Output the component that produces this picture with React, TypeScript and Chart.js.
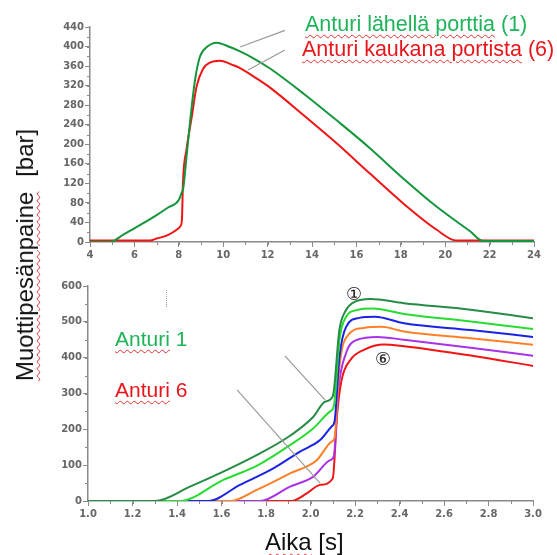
import React, { useEffect, useRef } from 'react';
import { Chart, registerables } from 'chart.js';
Chart.register(...registerables);

// ---------- Top chart data (time s, pressure bar) ----------
const topGreenX = [4, 4.9, 5.5, 6, 6.5, 7, 7.5, 8, 8.12, 8.2, 8.35, 8.5, 8.73, 8.95, 9.26, 9.71, 10.3, 10.76, 11.4, 12.11, 13.61, 15.11, 16.61, 18.11, 19.62, 21.12, 21.7, 22, 24];
const topGreenY = [0, 0, 15, 28, 41, 55, 70, 86, 100, 110, 175, 243, 331, 379, 399, 408, 399, 390, 375, 355, 304, 249, 192, 130, 72, 22, 2, 2, 2];
const topRedX = [4, 6.7, 7, 7.5, 7.9, 8.08, 8.14, 8.19, 8.35, 8.58, 8.8, 9.1, 9.4, 9.86, 10.45, 10.76, 11.5, 12.11, 13.61, 15.11, 16.61, 18.11, 19.62, 20.5, 24];
const topRedY = [3, 3, 7, 14, 25, 33, 45, 125, 190, 255, 318, 355, 367, 371, 362, 356, 335, 316, 260, 202, 140, 79, 25, 3, 3];

// ---------- Bottom chart data (sensors 1..6) ----------
const s1X = [1.0, 1.3, 1.458, 1.608, 1.758, 1.908, 2.013, 2.065, 2.1, 2.13, 2.155, 2.19, 2.27, 2.42, 2.72, 3.0];
const s1Y = [0, 0, 40, 82, 128, 182, 235, 277, 292, 478, 528, 553, 564, 552, 534, 510];
const s2X = [1.0, 1.413, 1.608, 1.758, 1.908, 2.013, 2.088, 2.105, 2.13, 2.16, 2.21, 2.28, 2.42, 2.72, 3.0];
const s2Y = [0, 0, 59, 98, 156, 203, 250, 265, 450, 514, 533, 537, 522, 501, 480];
const s3X = [1.0, 1.54, 1.683, 1.833, 1.953, 2.043, 2.095, 2.108, 2.13, 2.16, 2.22, 2.29, 2.42, 2.72, 3.0];
const s3Y = [0, 0, 45, 91, 138, 170, 208, 222, 402, 486, 511, 514, 496, 477, 458];
const s4X = [1.0, 1.638, 1.758, 1.908, 2.028, 2.095, 2.108, 2.13, 2.17, 2.24, 2.32, 2.42, 2.72, 3.0];
const s4Y = [0, 0, 31, 77, 114, 166, 176, 375, 464, 483, 486, 473, 454, 436];
const s5X = [1.0, 1.773, 1.908, 2.013, 2.088, 2.105, 2.125, 2.16, 2.21, 2.3, 2.42, 2.72, 3.0];
const s5Y = [0, 0, 40, 68, 114, 125, 310, 413, 450, 458, 450, 428, 405];
const s6X = [1.0, 1.915, 1.983, 2.043, 2.1, 2.12, 2.14, 2.18, 2.24, 2.33, 2.42, 2.72, 3.0];
const s6Y = [0, 0, 21, 45, 63, 245, 338, 394, 422, 437, 432, 406, 377];

const seriesColors = ['rgb(38,140,70)', 'rgb(40,220,50)', 'rgb(25,35,230)', 'rgb(255,128,40)', 'rgb(170,50,230)', 'rgb(240,20,20)'];

// annotation leader lines in data coordinates [x1, y1, x2, y2]
const topLeaders = [[10.76, 399, 12.78, 433], [11.12, 352, 12.78, 393]];
const bottomLeaders = [[1.885, 405, 2.065, 282], [1.67, 310, 2.043, 50]];
const bottomDotted = [[1.35, 589, 1.35, 539]];

const pts = (xs: number[], ys: number[]) => xs.map((x, i) => ({ x, y: ys[i] }));

const tickFont = { family: 'DejaVu Sans', size: 10, weight: 'bold' as const };
const tickColor = '#666666';
const axisColor = '#8a8a8a';

function minorTicksPlugin(xStep: number, yStep: number) {
  return {
    id: 'minorTicks',
    afterDraw(chart: any) {
      const ctx = chart.ctx;
      const xs = chart.scales.x;
      const ys = chart.scales.y;
      ctx.save();
      ctx.strokeStyle = axisColor;
      ctx.lineWidth = 1;
      ctx.beginPath();
      const nx = Math.round((xs.max - xs.min) / xStep);
      for (let i = 0; i <= nx; i++) {
        const px = Math.round(xs.getPixelForValue(xs.min + i * xStep)) + 0.5;
        ctx.moveTo(px, ys.bottom);
        ctx.lineTo(px, ys.bottom + 3);
      }
      const ny = Math.round((ys.max - ys.min) / yStep);
      for (let i = 0; i <= ny; i++) {
        const py = Math.round(ys.getPixelForValue(ys.min + i * yStep)) + 0.5;
        ctx.moveTo(xs.left, py);
        ctx.lineTo(xs.left - 3, py);
      }
      ctx.stroke();
      ctx.restore();
    },
  };
}

function leaderPlugin(lines: number[][], dotted: number[][]) {
  return {
    id: 'leaders',
    afterDraw(chart: any) {
      const ctx = chart.ctx;
      const xs = chart.scales.x;
      const ys = chart.scales.y;
      ctx.save();
      ctx.strokeStyle = '#9a9a9a';
      ctx.lineWidth = 1.2;
      lines.forEach(([x1, y1, x2, y2]) => {
        ctx.beginPath();
        ctx.moveTo(xs.getPixelForValue(x1), ys.getPixelForValue(y1));
        ctx.lineTo(xs.getPixelForValue(x2), ys.getPixelForValue(y2));
        ctx.stroke();
      });
      ctx.setLineDash([1, 1]);
      ctx.lineWidth = 1;
      dotted.forEach(([x1, y1, x2, y2]) => {
        ctx.beginPath();
        ctx.moveTo(Math.round(xs.getPixelForValue(x1)) + 0.5, ys.getPixelForValue(y1));
        ctx.lineTo(Math.round(xs.getPixelForValue(x2)) + 0.5, ys.getPixelForValue(y2));
        ctx.stroke();
      });
      ctx.restore();
    },
  };
}

function makeScales(xMin: number, xMax: number, xStep: number, yMin: number, yMax: number, yStep: number, yWidth: number, xFmt?: (v: number) => string) {
  return {
    x: {
      type: 'linear' as const,
      min: xMin,
      max: xMax,
      border: { display: true, color: axisColor, width: 1.5 },
      grid: { drawOnChartArea: false, drawTicks: true, tickLength: 5, color: axisColor, lineWidth: 1 },
      ticks: {
        stepSize: xStep,
        autoSkip: false,
        maxRotation: 0,
        padding: 2,
        color: tickColor,
        font: tickFont,
        callback: (v: any) => (xFmt ? xFmt(Number(v)) : String(v)),
      },
      afterFit: (s: any) => { s.height = 20; },
    },
    y: {
      type: 'linear' as const,
      min: yMin,
      max: yMax,
      border: { display: true, color: axisColor, width: 1.5 },
      grid: { drawOnChartArea: false, drawTicks: true, tickLength: 5, color: axisColor, lineWidth: 1 },
      ticks: { stepSize: yStep, autoSkip: false, padding: 1, color: tickColor, font: tickFont },
      afterFit: (s: any) => { s.width = yWidth; },
    },
  };
}

const lineDs = (label: string, data: any[], color: string) => ({
  label,
  data,
  borderColor: color,
  backgroundColor: color,
  borderWidth: 2,
  pointRadius: 0,
  fill: false,
  cubicInterpolationMode: 'monotone' as const,
});

const underline: React.CSSProperties = {
  textDecorationLine: 'underline',
  textDecorationStyle: 'wavy',
  textDecorationColor: '#e03030',
  textDecorationThickness: '1px',
  textUnderlineOffset: '3px',
};

const textBase: React.CSSProperties = {
  position: 'absolute',
  fontFamily: '"Liberation Sans", Arial, sans-serif',
  lineHeight: 1,
  whiteSpace: 'nowrap',
};

export default function App() {
  const topRef = useRef<HTMLCanvasElement | null>(null);
  const botRef = useRef<HTMLCanvasElement | null>(null);

  useEffect(() => {
    const top = new Chart(topRef.current as HTMLCanvasElement, {
      type: 'line',
      data: {
        datasets: [
          lineDs('Anturi lähellä porttia (1)', pts(topGreenX, topGreenY), 'rgb(20,150,60)'),
          lineDs('Anturi kaukana portista (6)', pts(topRedX, topRedY), 'rgb(240,20,20)'),
        ],
      },
      options: {
        responsive: false,
        animation: false,
        layout: { padding: { left: 0, right: 23, top: 27, bottom: 3 } },
        plugins: { legend: { display: false }, tooltip: { enabled: false } },
        scales: makeScales(4, 24, 2, 0, 440, 40, 90) as any,
      },
      plugins: [minorTicksPlugin(1, 20), leaderPlugin(topLeaders, [])],
    });

    const bottomSeries = [
      pts(s1X, s1Y), pts(s2X, s2Y), pts(s3X, s3Y), pts(s4X, s4Y), pts(s5X, s5Y), pts(s6X, s6Y),
    ];
    const bot = new Chart(botRef.current as HTMLCanvasElement, {
      type: 'line',
      data: {
        datasets: bottomSeries.map((d, i) => lineDs('Anturi ' + (i + 1), d, seriesColors[i])),
      },
      options: {
        responsive: false,
        animation: false,
        layout: { padding: { left: 0, right: 24, top: 21, bottom: 34 } },
        plugins: { legend: { display: false }, tooltip: { enabled: false } },
        scales: makeScales(1, 3, 0.2, 0, 600, 100, 88, (v) => v.toFixed(1)) as any,
      },
      plugins: [minorTicksPlugin(0.1, 50), leaderPlugin(bottomLeaders, bottomDotted)],
    });

    return () => {
      top.destroy();
      bot.destroy();
    };
  }, []);

  const green = '#1fb45a';
  const red = '#e8161b';

  return (
    <div style={{ position: 'absolute', left: 0, top: 0, width: 557, height: 555, background: '#fff', overflow: 'hidden' }}>
      <canvas ref={topRef} width={557} height={265} style={{ position: 'absolute', left: 0, top: 0 }} />
      <canvas ref={botRef} width={557} height={290} style={{ position: 'absolute', left: 0, top: 265 }} />

      {/* legend-like annotations, top chart */}
      <div style={{ ...textBase, left: 305, top: 14, fontSize: 21.5, color: green }}>
        <span style={underline}>Anturi lähellä porttia</span> (1)
      </div>
      <div style={{ ...textBase, left: 302, top: 39, fontSize: 21.5, color: red }}>
        <span style={underline}>Anturi kaukana portista</span> (6)
      </div>

      {/* bottom chart annotations */}
      <div style={{ ...textBase, left: 115, top: 328, fontSize: 21, color: green }}>
        <span style={underline}>Anturi</span> 1
      </div>
      <div style={{ ...textBase, left: 115, top: 379, fontSize: 21, color: red }}>
        <span style={underline}>Anturi</span> 6
      </div>
      <div style={{ ...textBase, fontFamily: '"DejaVu Sans", sans-serif', left: 354, top: 294, fontSize: 18, color: '#222', transform: 'translate(-50%,-50%)' }}>①</div>
      <div style={{ ...textBase, fontFamily: '"DejaVu Sans", sans-serif', left: 383, top: 359, fontSize: 18, color: '#222', transform: 'translate(-50%,-50%)' }}>⑥</div>

      {/* axis titles */}
      <div
        style={{
          ...textBase,
          left: 25,
          top: 255,
          fontSize: 24,
          color: '#111',
          wordSpacing: 8,
          transform: 'translate(-50%,-50%) rotate(-90deg)',
        }}
      >
        <span style={underline}>Muottipesänpaine</span> [bar]
      </div>
      <div style={{ ...textBase, left: 265, top: 530, fontSize: 24, color: '#111' }}>
        <span style={underline}>Aika</span> [s]
      </div>
    </div>
  );
}
